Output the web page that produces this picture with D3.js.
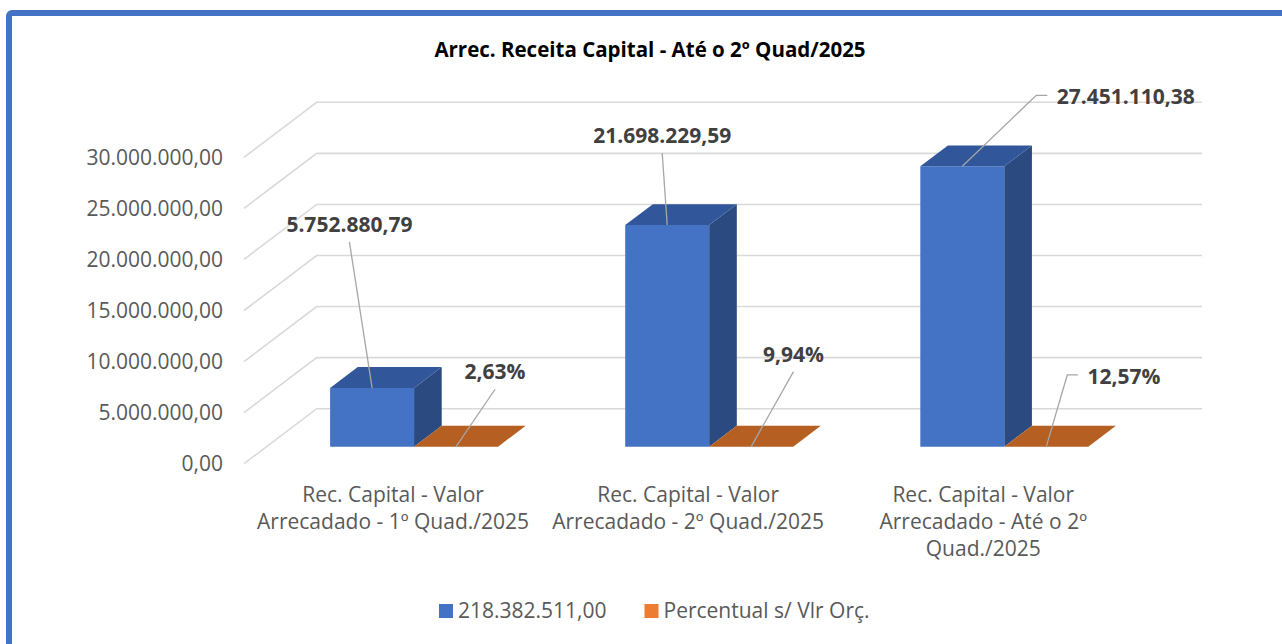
<!DOCTYPE html>
<html>
<head>
<meta charset="utf-8">
<script src="https://cdn.jsdelivr.net/npm/d3@7"></script>
<style>
  html, body { margin: 0; padding: 0; background: #fff; }
  svg { display: block; }
  text { font-family: "Open Sans", sans-serif; }
</style>
</head>
<body>
<svg id="chart" width="1282" height="644"></svg>
<script>
// ---- data ----
const title = "Arrec. Receita Capital - Até o 2º Quad/2025";
const categories = [
  "Rec. Capital - Valor Arrecadado - 1º Quad./2025",
  "Rec. Capital - Valor Arrecadado - 2º Quad./2025",
  "Rec. Capital - Valor Arrecadado - Até o 2º Quad./2025"
];
const seriesNames = ["218.382.511,00", "Percentual s/ Vlr Orç."];
const valuesArrecadado = [5752880.79, 21698229.59, 27451110.38];
const valuesPercentual = [2.63, 9.94, 12.57];   // percent
const yTicks = [0, 5000000, 10000000, 15000000, 20000000, 25000000, 30000000];
const yMax = 30000000;

// ---- layout ----
const plot = { left: 244, right: 1129.3, bottom: 463.7, top: 157.3 };
const DEPTH = { dx: 72.7, dy: -55 };
const barD0 = 0.31, barD1 = 0.69;
const colors = {
  blue: { front: "#4472C4", top: "#31579A", side: "#2A4A80", legend: "#4472C4" },
  orange: { front: "#ED7D31", top: "#B55F22", side: "#9E521D", legend: "#ED7D31" }
};
// label placement offsets (relative to the anchor point on each bar)
const labelLayout = [
  [ {dx: -22.7, dy: -146, elbow: null}, {dx: 39, dy: -57.4, elbow: null} ],
  [ {dx: -5, dy: -72, elbow: null},     {dx: 42.3, dy: -75, elbow: null} ],
  [ {dx: 85, dy: -71, elbow: 11},       {dx: 31.6, dy: -71.7, elbow: 10.6} ]
];

const svg = d3.select("#chart");
const fmtNum = v => {
  const s = v.toFixed(2).split(".");
  return s[0].replace(/\B(?=(\d{3})+(?!\d))/g, ".") + "," + s[1];
};
const fmtPct = v => v.toFixed(2).replace(".", ",") + "%";

// border
svg.append("rect").attr("x", 9).attr("y", 13).attr("width", 1300).attr("height", 700)
  .attr("rx", 3).attr("fill", "#fff").attr("stroke", "#4472C4").attr("stroke-width", 6);

// title
svg.append("text").attr("x", 650).attr("y", 56.5).attr("text-anchor", "middle")
  .attr("font-size", 20.5).attr("font-weight", 700).attr("fill", "#000").text(title);

// scales
const y = d3.scaleLinear().domain([0, yMax]).range([plot.bottom, plot.top]);
const x = d3.scaleBand().domain(categories).range([plot.left, plot.right]).paddingInner(0).paddingOuter(0);
const xs = d3.scaleBand().domain(seriesNames).range([0, x.bandwidth()]).paddingInner(0).paddingOuter(0.757);
const P = (X, v, d) => [X + DEPTH.dx * d, y(v) + DEPTH.dy * d];

// gridlines (side wall diagonal + back wall)
const grid = svg.append("g");
yTicks.forEach(t => {
  const a = P(plot.left, t, 0), b = P(plot.left, t, 1), c = P(plot.right, t, 1);
  grid.append("path").attr("d", `M${a}L${b}L${c}`).attr("fill", "none")
    .attr("stroke", "#D9D9D9").attr("stroke-width", 1.6);
});

// y axis labels
svg.append("g").selectAll("text").data(yTicks).join("text")
  .attr("x", plot.left - 21).attr("y", d => y(d)).attr("dy", "0.36em")
  .attr("text-anchor", "end").attr("font-size", 21).attr("fill", "#595959")
  .text(d => fmtNum(d));

// bars
const seriesData = [
  { name: seriesNames[0], vals: valuesArrecadado.map(v => v), color: colors.blue },
  { name: seriesNames[1], vals: valuesPercentual.map(v => v / 100), color: colors.orange }
];
const bars = svg.append("g");
const anchors = [];
const poly = pts => "M" + pts.map(p => p.join(",")).join("L") + "Z";
categories.forEach((cat, i) => {
  anchors.push([]);
  seriesData.forEach((s, j) => {
    const v = s.vals[i];
    const X0 = x(cat) + xs(s.name), X1 = X0 + xs.bandwidth();
    bars.append("path").attr("d", poly([P(X0, 0, barD0), P(X1, 0, barD0), P(X1, v, barD0), P(X0, v, barD0)]))
      .attr("fill", s.color.front);
    bars.append("path").attr("d", poly([P(X1, 0, barD0), P(X1, 0, barD1), P(X1, v, barD1), P(X1, v, barD0)]))
      .attr("fill", s.color.side);
    bars.append("path").attr("d", poly([P(X0, v, barD0), P(X1, v, barD0), P(X1, v, barD1), P(X0, v, barD1)]))
      .attr("fill", s.color.top);
    const fc = P((X0 + X1) / 2, v, barD0);
    anchors[i].push({ pt: fc, text: j === 0 ? fmtNum(valuesArrecadado[i]) : fmtPct(valuesPercentual[i]) });
  });
});

// data labels with leader lines
const lbl = svg.append("g");
anchors.forEach((row, i) => row.forEach((a, j) => {
  const L = labelLayout[i][j];
  const tx = a.pt[0] + L.dx, ty = a.pt[1] + L.dy;
  const path = L.elbow == null
    ? `M${a.pt}L${tx},${ty}`
    : `M${a.pt}L${tx - L.elbow},${ty}L${tx},${ty}`;
  lbl.append("path").attr("d", path).attr("fill", "none").attr("stroke", "#A6A6A6").attr("stroke-width", 1.3);
  const t = lbl.append("text").attr("font-size", 21).attr("font-weight", 700).attr("fill", "#404040").text(a.text);
  if (L.elbow == null) {
    t.attr("x", tx).attr("y", ty - 10).attr("text-anchor", "middle");
  } else {
    t.attr("x", tx + 9.5).attr("y", ty + 9).attr("text-anchor", "start");
  }
}));

// category labels (wrapped)
const catG = svg.append("g");
categories.forEach(cat => {
  const cx = x(cat) + x.bandwidth() / 2 + 1.5;
  const t = catG.append("text").attr("text-anchor", "middle").attr("font-size", 21).attr("fill", "#595959");
  const words = cat.split(" ");
  let line = [], lines = [];
  const probe = catG.append("text").attr("font-size", 21).style("visibility", "hidden");
  words.forEach(w => {
    const test = line.concat([w]).join(" ");
    probe.text(test);
    if (probe.node().getComputedTextLength() > 292 && line.length) {
      lines.push(line.join(" ")); line = [w];
    } else line.push(w);
  });
  lines.push(line.join(" "));
  probe.remove();
  lines.forEach((ln, k) => {
    t.append("tspan").attr("x", cx).attr("y", 502 + k * 27).text(ln);
  });
});

// legend
const leg = svg.append("g");
const legItems = [
  { name: seriesNames[0], color: colors.blue.legend, x: 439 },
  { name: seriesNames[1], color: colors.orange.legend, x: 644.5 }
];
legItems.forEach(it => {
  leg.append("rect").attr("x", it.x).attr("y", 604).attr("width", 14).attr("height", 14).attr("fill", it.color);
  leg.append("text").attr("x", it.x + 19).attr("y", 617.5).attr("font-size", 21).attr("fill", "#595959").text(it.name);
});
</script>
</body>
</html>
